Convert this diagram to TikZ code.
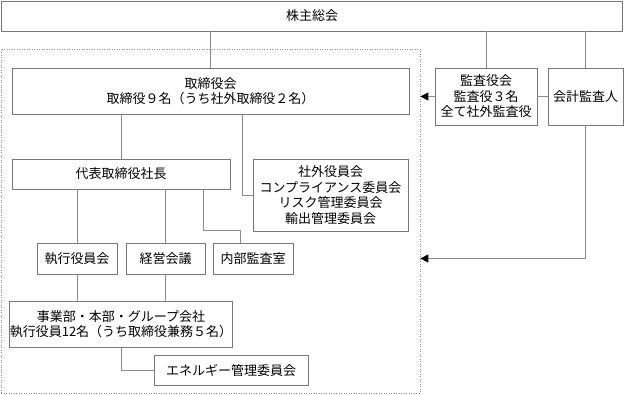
\documentclass[tikz,border=0pt]{standalone}
\usepackage{fontspec}
\setmainfont{Noto Sans CJK JP}
\usetikzlibrary{arrows.meta}
\definecolor{boxgray}{RGB}{120,120,120}
\definecolor{linegray}{RGB}{140,140,140}
\begin{document}
\begin{tikzpicture}[x=1pt,y=1pt,
  box/.style={draw=boxgray, line width=0.8pt, inner sep=0pt, align=center,
    font=\fontsize{13}{15.5}\selectfont, text=black},
  conn/.style={draw=linegray, line width=0.9pt},
  arr/.style={conn, -{Triangle[length=8pt,width=8pt,color=black]}},
  dotbox/.style={draw=linegray, line width=0.7pt, dash pattern=on 1pt off 1.5pt, inner sep=0pt}]
\useasboundingbox (0,0) rectangle (624,-394);
% outer dotted frame
\node[dotbox, minimum width=419pt, minimum height=344pt] (dot) at (210.5,-221) {};
% boxes
\node[box, minimum width=621pt, minimum height=30pt] (top) at (312,-16) {株主総会};
\node[box, minimum width=397pt, minimum height=46pt] (board) at (210.5,-91) {取締役会\\取締役９名（うち社外取締役２名）};
\node[box, minimum width=102pt, minimum height=57pt] (kansa) at (486,-96.5) {監査役会\\監査役３名\\全て社外監査役};
\node[box, minimum width=75pt, minimum height=57pt] (kaikei) at (585.5,-96.5) {会計監査人};
\node[box, minimum width=218pt, minimum height=30pt] (pres) at (121,-174) {代表取締役社長};
\node[box, minimum width=155pt, minimum height=72pt] (comm) at (330.5,-195) {社外役員会\\コンプライアンス委員会\\リスク管理委員会\\輸出管理委員会};
\node[box, minimum width=80pt, minimum height=31pt] (exec) at (77,-258.5) {執行役員会};
\node[box, minimum width=79pt, minimum height=31pt] (mgmt) at (165.5,-258.5) {経営会議};
\node[box, minimum width=80pt, minimum height=31pt] (audit) at (253,-258.5) {内部監査室};
\node[box, minimum width=218pt, minimum height=46pt] (div) at (121,-324) {事業部・本部・グループ会社\\執行役員12名（うち取締役兼務５名）};
\node[box, minimum width=154pt, minimum height=30pt] (energy) at (231,-370) {エネルギー管理委員会};
% helper coordinates
\coordinate (bx) at (242,0);
\coordinate (ax) at (203,-230);
\coordinate (ay) at (240,-230);
% connectors
\draw[conn] (board.north) -- (board.north |- top.south);
\draw[conn] (kansa.north) -- (kansa.north |- top.south);
\draw[conn] (kaikei.north) -- (kaikei.north |- top.south);
\draw[conn] (kaikei.west) -- (kansa.east);
\draw[arr] (kansa.west) -- (kansa.west -| dot.east);
\draw[arr] (kaikei.south) |- (dot.east |- exec);
\draw[conn] (board.south -| pres.north) -- (pres.north);
\draw[conn] (bx |- board.south) |- (comm.west);
\draw[conn] (pres.south -| exec.north) -- (exec.north);
\draw[conn] (pres.south -| mgmt.north) -- (mgmt.north);
\draw[conn] (pres.south -| ax) -- (ax) -- (ay) -- (ay |- audit.north);
\draw[conn] (exec.south) -- (exec.south |- div.north);
\draw[conn] (mgmt.south) -- (mgmt.south |- div.north);
\draw[conn] (div.south) |- (energy.west);
\end{tikzpicture}
\end{document}
